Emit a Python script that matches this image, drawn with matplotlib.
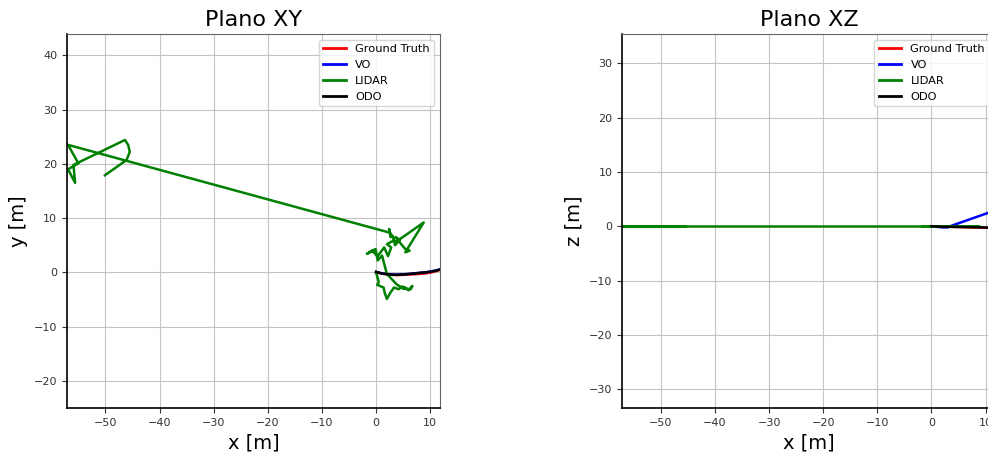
import matplotlib
matplotlib.use("Agg")
import matplotlib.pyplot as plt

# ---- data ----
gt_x = [0.0, 1.0, 2.0, 3.0, 4.0, 5.0, 6.0, 7.0, 8.0, 9.0, 10.0, 11.0, 12.0]
gt_y = [0.0, -0.2, -0.35, -0.45, -0.5, -0.45, -0.4, -0.35, -0.3, -0.2, -0.05, 0.2, 0.5]
gt_z = [0.0, -0.03, -0.06, -0.08, -0.1, -0.12, -0.15, -0.18, -0.2, -0.22, -0.25, -0.28, -0.3]

vo_x = [0.0, 1.0, 2.0, 3.0, 3.5, 4.0, 5.0, 6.0, 7.0, 8.0, 9.0, 10.0, 11.0, 12.0]
vo_y = [0.05, -0.15, -0.3, -0.4, -0.42, -0.4, -0.35, -0.3, -0.2, -0.1, 0.0, 0.15, 0.35, 0.6]
vo_z = [0.0, -0.1, -0.2, -0.2, 0.0, 0.2, 0.55, 0.9, 1.25, 1.6, 1.95, 2.3, 2.65, 3.0]

lidar_x = [0.0, 0.5, 0.2, 1.4, 1.6, 2.0, 2.6, 3.3, 4.2, 4.8, 5.4, 6.0, 6.7, 6.4, 5.0,
           3.8, 2.0, 1.1, 0.3, -0.1, -1.7, -0.8, 0.3, 1.5, 2.2, 2.8, 2.0, 3.3, 3.5,
           4.4, 3.6, 4.8, 5.5, 6.2, 5.4, 8.8, 3.5, 3.0, 2.6, 2.4, 2.7, 2.6,
           -56.9, -55.0, -56.9, -55.6, -55.9, -46.4, -45.8, -45.5, -46.1, -50.1]
lidar_y = [0.0, -1.8, -2.3, -2.8, -3.8, -4.9, -3.8, -2.8, -3.1, -2.6, -2.8, -3.3, -2.5, -3.1, -3.0,
           -2.2, -0.3, 3.1, 2.2, 4.3, 3.4, 4.0, 3.0, 4.6, 3.0, 4.6, 5.2, 5.9, 5.0,
           6.0, 6.5, 5.0, 4.2, 4.0, 3.7, 9.2, 5.5, 6.8, 7.1, 8.0, 6.5, 7.3,
           23.5, 20.1, 19.0, 16.5, 19.8, 24.4, 23.5, 22.2, 20.7, 17.9]
lidar_z = [0.0] * len(lidar_x)

odo_x = [0.0, 1.0, 2.0, 3.0, 4.0, 5.0, 6.0, 7.0, 8.0, 9.0, 10.0, 11.0, 12.0]
odo_y = [0.1, -0.2, -0.35, -0.45, -0.45, -0.4, -0.3, -0.2, -0.1, 0.0, 0.1, 0.3, 0.6]
odo_z = [0.0, -0.05, -0.1, -0.12, -0.12, -0.14, -0.16, -0.18, -0.2, -0.22, -0.24, -0.26, -0.28]

labels = ["Ground Truth", "VO", "LIDAR", "ODO"]
colors = ["red", "blue", "green", "black"]
xticks = [-50, -40, -30, -20, -10, 0, 10]
yticks_xy = [-20, -10, 0, 10, 20, 30, 40]
yticks_xz = [-30, -20, -10, 0, 10, 20, 30]

fig = plt.figure(figsize=(9.88, 4.57), dpi=100)
ax1 = fig.add_axes([0.0678, 0.1072, 0.3775, 0.818])
ax2 = fig.add_axes([0.6299, 0.1072, 0.3775, 0.818])

series_xy = [(gt_x, gt_y), (vo_x, vo_y), (lidar_x, lidar_y), (odo_x, odo_y)]
series_xz = [(gt_x, gt_z), (vo_x, vo_z), (lidar_x, lidar_z), (odo_x, odo_z)]

for ax, series, title, ylab, ylim, yt in [
    (ax1, series_xy, "Plano XY", "y [m]", (-25.0, 43.9), yticks_xy),
    (ax2, series_xz, "Plano XZ", "z [m]", (-33.5, 35.4), yticks_xz),
]:
    for (xs, ys), lab, col in zip(series, labels, colors):
        ax.plot(xs, ys, color=col, label=lab, linewidth=1.8)
    ax.set_xlim(-57.1, 11.8)
    ax.set_ylim(*ylim)
    ax.set_xticks(xticks)
    ax.set_yticks(yt)
    ax.set_title(title, fontsize=16)
    ax.set_xlabel("x [m]", fontsize=14)
    ax.set_ylabel(ylab, fontsize=14)
    ax.grid(True, color="#c4c4c4", linewidth=0.8)
    ax.tick_params(labelsize=8, colors="#333333")
    for s in ["top", "right"]:
        ax.spines[s].set_color("#666666")
        ax.spines[s].set_linewidth(0.8)
    for s in ["left", "bottom"]:
        ax.spines[s].set_linewidth(1.2)
    leg = ax.legend(loc="upper right", fontsize=8.2)
    for l in leg.get_lines():
        l.set_linewidth(2)

fig.savefig("out.png", dpi=100)
